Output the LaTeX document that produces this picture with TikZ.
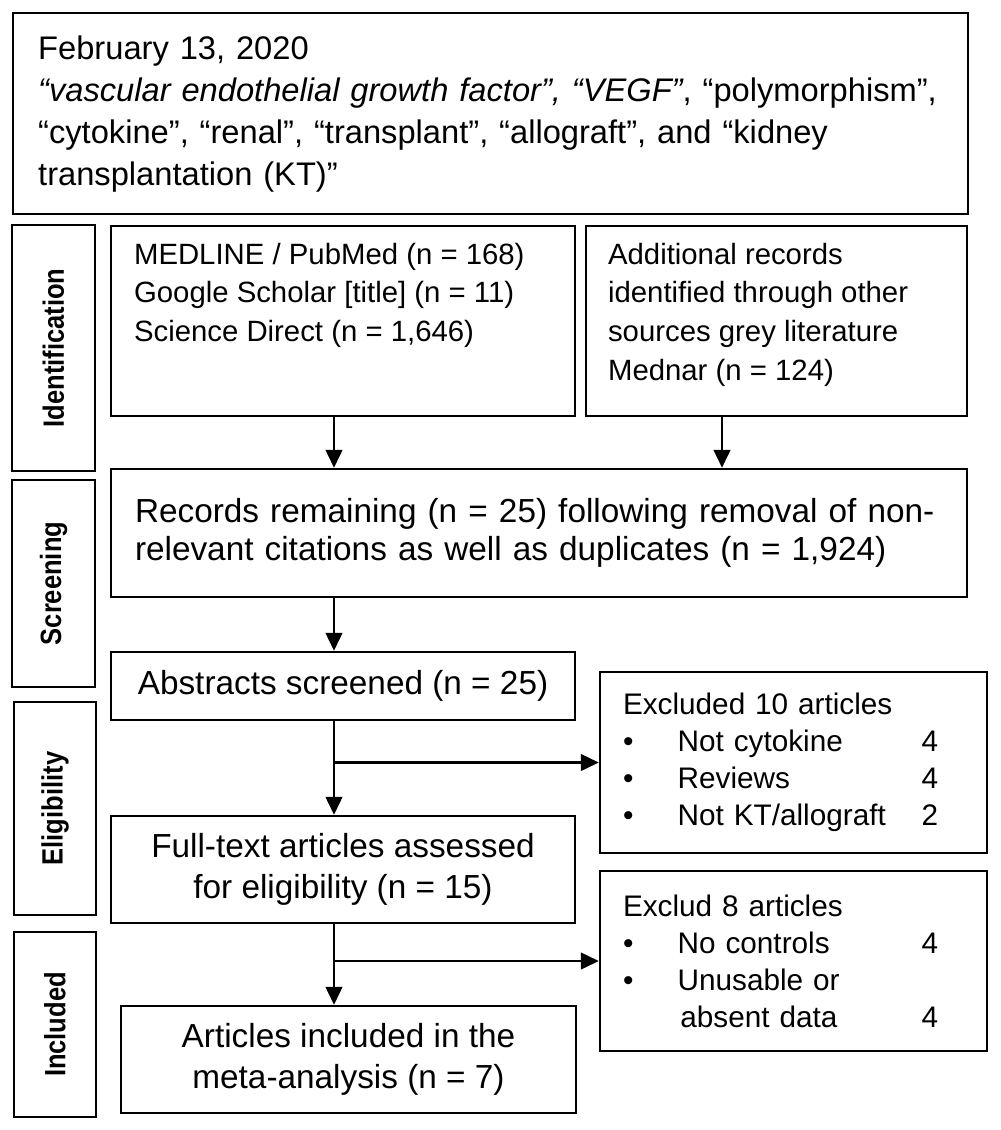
\documentclass[tikz,border=0pt]{standalone}
\usepackage{fontspec}
\setmainfont{Liberation Sans}
\newfontfamily\narrowfont[FakeStretch=0.87]{Liberation Sans}
\usepackage{xcolor}
\usepackage{tikz}
\usetikzlibrary{arrows.meta, positioning, calc}
\newcommand{\exitem}[2]{\makebox[41pt][l]{\textbullet}\makebox[183pt][l]{#1}#2}

\begin{document}
\begin{tikzpicture}[x=0.75pt, y=-0.75pt,
  box/.style={draw=black, line width=1.8pt, inner sep=0pt},
  sidebox/.style={box, rotate=90, font=\narrowfont\fontsize{22}{26}\selectfont\bfseries},
  flowtext/.style={font=\fontsize{25}{30.5}\selectfont, align=center},
  srctext/.style={font=\fontsize{22}{29}\selectfont, align=left, anchor=north west, inner sep=0pt},
  extext/.style={font=\fontsize{22.3}{27.75}\selectfont, align=left, text width=255.75pt, inner xsep=17.25pt},
  arr/.style={line width=1.8pt, -{Triangle[length=13.5pt, width=12.5pt]}}]

\useasboundingbox (0,0) rectangle (1000,1130);

\node[box, anchor=north west, minimum width=716.25pt, minimum height=150.75pt,
  text width=678.75pt, inner xsep=18.75pt, align=left,
  font=\fontsize{24.5}{31.5}\selectfont] (search) at (12,12)
  {February 13, 2020\\
   \textit{“vascular endothelial growth factor”, “VEGF”}, “polymorphism”,\\
   “cytokine”, “renal”, “transplant”, “allograft”, and “kidney\\
   transplantation (KT)”};

\node[sidebox, minimum width=184.5pt, minimum height=62.25pt] (ident) at (53.5,348) {Identification};
\node[sidebox, minimum width=155.25pt, minimum height=62.25pt] (screen) at (53.5,583.5) {Screening};
\node[sidebox, minimum width=159.75pt, minimum height=61.5pt] (elig) at (55,808.5) {Eligibility};
\node[sidebox, minimum width=138.75pt, minimum height=61.5pt] (incl) at (55,1024.5) {Included};

\node[box, minimum width=348pt, minimum height=142.5pt] (medline) at (343,321) {};
\node[srctext] (medlinetxt) at ([shift={(24,18)}]medline.north west)
  {MEDLINE / PubMed (n = 168)\\Google Scholar [title] (n = 11)\\Science Direct (n = 1,646)};

\node[box, minimum width=285.75pt, minimum height=142.5pt] (addl) at (776.5,321) {};
\node[srctext] (addltxt) at ([shift={(23,18)}]addl.north west)
  {Additional records\\identified through other\\sources grey literature\\Mednar (n = 124)};

\node[box, minimum width=642pt, minimum height=96pt, text width=606pt, inner xsep=18pt,
  align=left, font=\fontsize{25}{28}\selectfont] (records) at (539,533)
  {Records remaining (n = 25) following removal of non-\\relevant citations as well as duplicates (n = 1,924)};

\node[box, minimum width=348pt, minimum height=51pt, flowtext] (abstracts) at (343,686)
  {Abstracts screened (n = 25)};
\node[box, minimum width=348pt, minimum height=80.25pt, flowtext] (fulltext) at (343,869.5)
  {Full-text articles assessed\\for eligibility (n = 15)};
\node[box, minimum width=341.25pt, minimum height=80.25pt, flowtext] (included) at (348.5,1059.5)
  {Articles included in the\\meta-analysis (n = 7)};

\node[box, minimum width=290.25pt, minimum height=135.75pt, extext] (excl1) at (793.5,762.5)
  {Excluded 10 articles\\
   \exitem{Not cytokine}{4}\\
   \exitem{Reviews}{4}\\
   \exitem{Not KT/allograft}{2}};
\node[box, minimum width=290.25pt, minimum height=135pt, extext] (excl2) at (793.5,961)
  {Exclud 8 articles\\
   \exitem{No controls}{4}\\
   \exitem{Unusable or}{}\\
   \makebox[41pt]{}\makebox[183pt][l]{\hspace{2pt}absent data}4};

\coordinate (spine) at (334,0);
\coordinate (spinetwo) at (722,0);
\draw[arr] (spine |- medline.south) -- (spine |- records.north);
\draw[arr] (spinetwo |- addl.south) -- (spinetwo |- records.north);
\draw[arr] (spine |- records.south) -- (spine |- abstracts.north);
\draw[arr] (spine |- abstracts.south) -- (spine |- fulltext.north);
\draw[arr] (spine |- excl1.west) -- (excl1.west);
\draw[arr] (spine |- fulltext.south) -- (spine |- included.north);
\draw[arr] (spine |- excl2.west) -- (excl2.west);
\end{tikzpicture}
\end{document}
